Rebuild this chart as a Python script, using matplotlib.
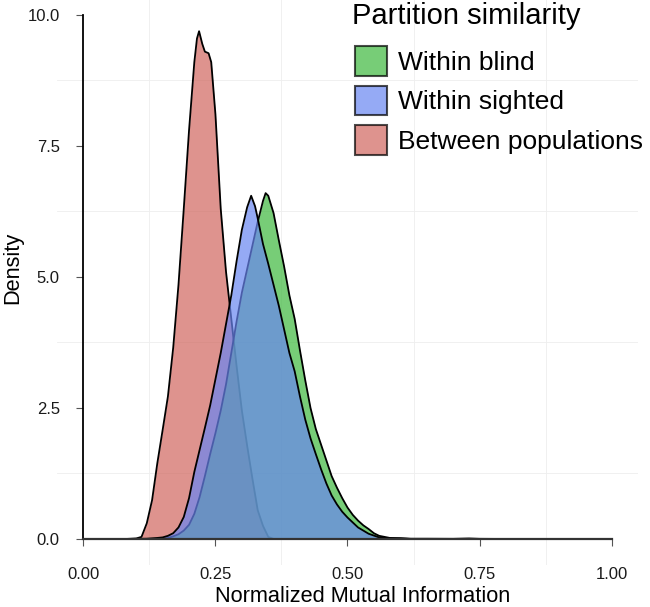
import matplotlib
matplotlib.use("Agg")
import matplotlib.pyplot as plt
from matplotlib.patches import Patch

plt.rcParams["font.family"] = ["Liberation Sans", "DejaVu Sans"]

# -----------------------------
# Data (density curves)
# -----------------------------
between_x = [0.08, 0.10, 0.11, 0.12, 0.13, 0.14, 0.15, 0.16, 0.17, 0.18, 0.19, 0.20,
             0.21, 0.215, 0.219, 0.225, 0.23, 0.237, 0.242, 0.25, 0.26, 0.27, 0.28,
             0.29, 0.30, 0.31, 0.32, 0.33, 0.34, 0.35, 0.36, 0.38, 1.0]
between_y = [0.0, 0.01, 0.04, 0.30, 0.74, 1.45, 2.08, 2.72, 3.65, 4.85, 6.3, 7.8,
             9.1, 9.55, 9.69, 9.45, 9.3, 9.27, 9.1, 8.1, 6.3, 5.1, 4.2,
             3.3, 2.45, 1.78, 1.15, 0.55, 0.25, 0.04, 0.0, 0.0, 0.0]

sighted_x = [0.08, 0.12, 0.14, 0.15, 0.16, 0.17, 0.18, 0.19, 0.20, 0.21, 0.22, 0.23,
             0.24, 0.25, 0.26, 0.27, 0.28, 0.29, 0.30, 0.31, 0.3176, 0.325, 0.33,
             0.34, 0.35, 0.36, 0.37, 0.38, 0.39, 0.40, 0.41, 0.42, 0.43, 0.44, 0.45,
             0.46, 0.47, 0.48, 0.49, 0.50, 0.52, 0.54, 0.56, 0.58, 0.60, 0.62, 1.0]
sighted_y = [0.0, 0.005, 0.02, 0.03, 0.06, 0.11, 0.22, 0.42, 0.78, 1.28, 1.7, 2.12,
             2.55, 3.05, 3.55, 4.1, 4.65, 5.3, 5.9, 6.33, 6.55, 6.35, 6.12,
             5.63, 5.25, 4.85, 4.45, 4.0, 3.55, 3.2, 2.72, 2.28, 1.92, 1.62, 1.33,
             1.06, 0.83, 0.66, 0.52, 0.41, 0.22, 0.10, 0.03, 0.01, 0.01, 0.0, 0.0]

blind_x = [0.08, 0.15, 0.16, 0.17, 0.18, 0.19, 0.20, 0.21, 0.22, 0.23, 0.24, 0.25,
           0.26, 0.27, 0.28, 0.29, 0.30, 0.31, 0.32, 0.33, 0.34, 0.345, 0.35, 0.36,
           0.37, 0.38, 0.39, 0.40, 0.41, 0.42, 0.43, 0.44, 0.45, 0.46, 0.47, 0.48,
           0.49, 0.50, 0.51, 0.52, 0.53, 0.54, 0.55, 0.56, 0.58, 0.60, 0.62, 0.65,
           0.70, 0.73, 0.75, 0.80, 1.0]
blind_y = [0.0, 0.0, 0.02, 0.05, 0.09, 0.16, 0.27, 0.48, 0.8, 1.2, 1.62, 2.02,
           2.45, 2.95, 3.55, 4.15, 4.7, 5.15, 5.6, 6.05, 6.45, 6.6, 6.55, 6.22,
           5.7, 5.2, 4.65, 4.2, 3.6, 3.03, 2.5, 2.1, 1.8, 1.5, 1.2, 0.98,
           0.78, 0.6, 0.46, 0.35, 0.26, 0.19, 0.11, 0.06, 0.02, 0.015, 0.005, 0.005,
           0.003, 0.01, 0.003, 0.0, 0.0]

labels = ["Within blind", "Within sighted", "Between populations"]
colors = ["#3EB83E", "#6986F1", "#D0665E"]
ALPHA = 0.7

# -----------------------------
# Figure
# -----------------------------
fig = plt.figure(figsize=(6.5, 6.07), dpi=100)
ax = fig.add_axes([0.0877, 0.0689, 0.8938, 0.9496])

# draw order: between, blind, sighted (later fills veil earlier outlines)
series = [(between_x, between_y, colors[2]),
          (blind_x, blind_y, colors[0]),
          (sighted_x, sighted_y, colors[1])]
z = 1.0
for xs, ys, col in series:
    ax.fill_between(xs, 0, ys, color=col, alpha=ALPHA, lw=0, zorder=z)
    ax.plot(xs, ys, color="black", lw=1.3, zorder=z + 0.1)
    z += 0.2

ax.set_xlim(-0.05, 1.05)
ax.set_ylim(-0.5, 10.5)

ax.set_xticks([0, 0.25, 0.5, 0.75, 1.0])
ax.set_xticklabels(["0.00", "0.25", "0.50", "0.75", "1.00"])
ax.set_yticks([0, 2.5, 5, 7.5, 10])
ax.set_yticklabels(["0.0", "2.5", "5.0", "7.5", "10.0"])
ax.set_xticks([0.125, 0.375, 0.625, 0.875], minor=True)
ax.set_yticks([1.25, 3.75, 6.25, 8.75], minor=True)
ax.grid(which="minor", color="#EEEEEE", lw=0.6, zorder=0)
ax.grid(which="major", visible=False)
ax.set_axisbelow(True)

ax.tick_params(axis="both", which="major", labelsize=12, colors="#555555",
               labelcolor="#1a1a1a", length=5, width=0.8)
ax.tick_params(axis="x", which="major", pad=15)
ax.tick_params(axis="y", which="major", pad=12)
ax.tick_params(which="minor", length=0)

for side in ["top", "right"]:
    ax.spines[side].set_visible(False)
ax.spines["left"].set_position(("data", 0))
ax.spines["bottom"].set_position(("data", 0))
ax.spines["left"].set_bounds(0, 10)
ax.spines["bottom"].set_bounds(0, 1)
ax.spines["left"].set_linewidth(1.3)
ax.spines["bottom"].set_linewidth(1.6)
ax.spines["bottom"].set_color("#333333")
ax.spines["bottom"].set_zorder(3)

ax.set_xlabel("Normalized Mutual Information", fontsize=15.7)
ax.set_ylabel("Density", fontsize=15.7)
ax.xaxis.set_label_coords(0.5267, -0.036)
ax.yaxis.set_label_coords(-0.058, 0.5156)

# legend title as its own text, keys below it
fig.text(0.5415, 1 - 24 / 607, "Partition similarity", fontsize=21, va="baseline")
handles = [Patch(facecolor=c, alpha=ALPHA, edgecolor="black", lw=1.5) for c in colors]
leg = ax.legend(handles, labels, loc="upper left",
                bbox_to_anchor=(0.546, 1 - 46 / 607), bbox_transform=fig.transFigure,
                frameon=False, fontsize=19,
                handlelength=1.2, handleheight=1.35, handletextpad=0.45,
                labelspacing=0.38, borderpad=0, borderaxespad=0)
for h in leg.legend_handles:
    h.set_edgecolor("black")

fig.savefig("out.png", dpi=100)
